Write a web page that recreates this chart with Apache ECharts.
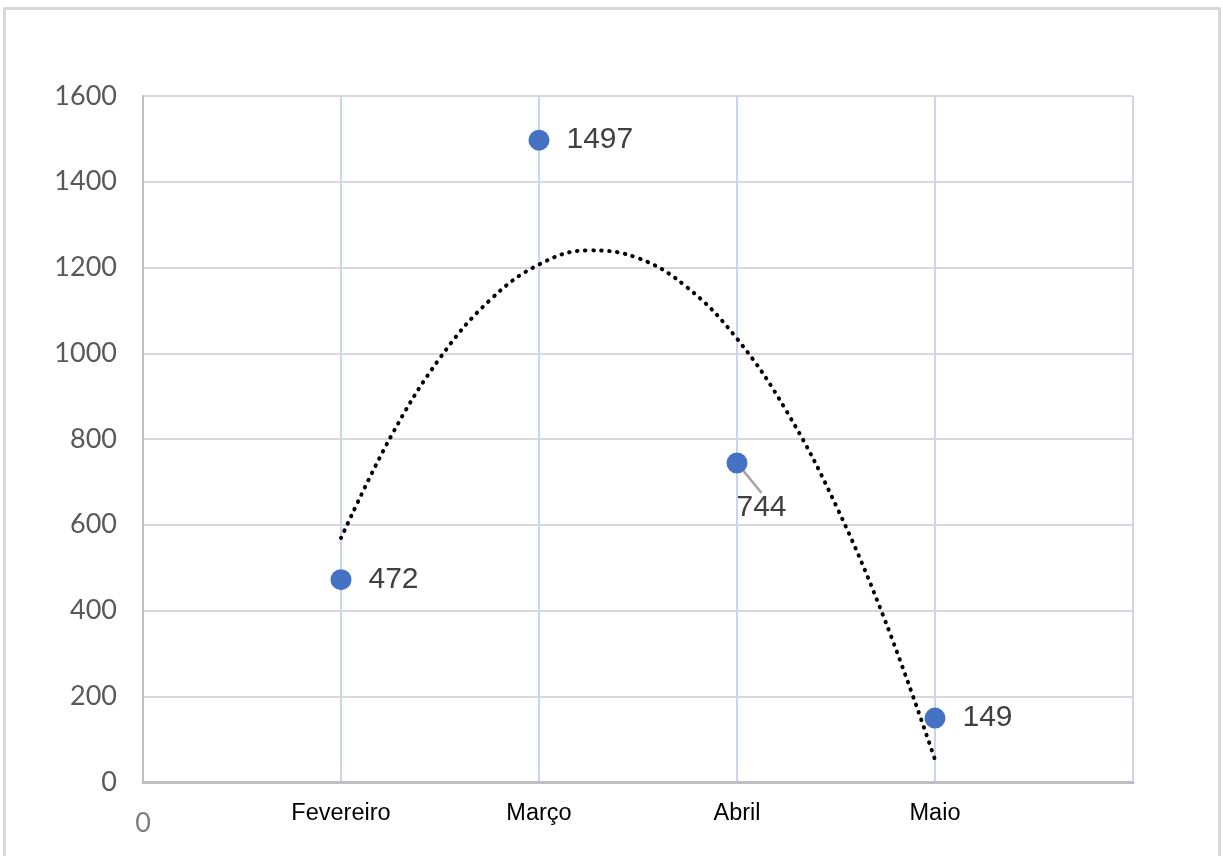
<!DOCTYPE html>
<html>
<head>
<meta charset="utf-8">
<script src="https://cdn.jsdelivr.net/npm/echarts@6/dist/echarts.min.js"></script>
<style>
html,body{margin:0;padding:0;background:#fff;}
#chart{width:1223px;height:856px;}
</style>
</head>
<body>
<div id="chart"></div>
<script>
// Data
const categories = ['Fevereiro', 'Março', 'Abril', 'Maio'];
const values = [472, 1497, 744, 149];
// Dotted polynomial trend line at quarter-steps from Fevereiro (1) to Maio (4)
const trendX = [1, 1.25, 1.5, 1.75, 2, 2.25, 2.5, 2.75, 3, 3.25, 3.5, 3.75, 4];
const trendY = [569, 804, 989, 1123, 1207, 1240, 1222, 1153, 1034, 865, 645, 374, 52];
const yTicks = { min: 0, max: 1600, interval: 200 };

const chart = echarts.init(document.getElementById('chart'), null, { renderer: 'canvas' });

const scatterData = values.map((v, i) => [i + 1, v]);
const trendData = trendX.map((x, i) => [x, trendY[i]]);

chart.setOption({
  backgroundColor: '#ffffff',
  animation: false,
  grid: { left: 143, right: 90, top: 96, bottom: 74, containLabel: false },
  graphic: [{
    type: 'rect',
    shape: { x: 4.5, y: 8.5, width: 1215, height: 860 },
    style: { fill: 'none', stroke: '#d9d9d9', lineWidth: 3 },
    silent: true
  }],
  xAxis: {
    type: 'value',
    min: 0, max: 5, interval: 1,
    axisLine: { show: true, onZero: false, lineStyle: { color: '#bfbfbf', width: 3 } },
    axisTick: { show: false },
    splitLine: { show: true, lineStyle: { color: '#c7d6ef', width: 2 } },
    axisLabel: {
      margin: 19,
      formatter: function (v) {
        if (v === 0) return '{z|0}';
        const c = categories[v - 1];
        return c ? '{m|' + c + '}' : '';
      },
      rich: {
        m: { fontFamily: 'Liberation Sans, Arial, sans-serif', fontSize: 23.5, color: '#000000', lineHeight: 26 },
        z: { fontFamily: 'Lato, sans-serif', fontSize: 27, color: '#7f7f7f', lineHeight: 27, padding: [18, 0, 0, 0] }
      }
    }
  },
  yAxis: {
    type: 'value',
    min: yTicks.min, max: yTicks.max, interval: yTicks.interval,
    axisLine: { show: true, lineStyle: { color: '#bfbfbf', width: 2 } },
    axisTick: { show: false },
    splitLine: { show: true, lineStyle: { color: '#d9d9d9', width: 2 } },
    axisLabel: {
      margin: 26, fontFamily: 'Lato, sans-serif', fontSize: 27, color: '#595959',
      formatter: function (v) { return String(v); }
    }
  },
  series: [
    {
      type: 'line',
      data: trendData,
      smooth: 0.4,
      symbol: 'none',
      lineStyle: { color: '#000000', width: 4, type: [0.5, 7.5], cap: 'round' },
      z: 3
    },
    {
      type: 'scatter',
      data: scatterData.map((d, i) => i === 2 ? {
        value: d,
        labelLine: { show: true, lineStyle: { color: '#a6a6a6', width: 2.5 } }
      } : { value: d }),
      symbolSize: 21,
      itemStyle: { color: '#4472c4', opacity: 1 },
      label: {
        show: true,
        position: 'right',
        distance: 17,
        fontFamily: 'Liberation Sans, Arial, sans-serif',
        fontSize: 30,
        color: '#404040',
        formatter: function (p) { return p.value[1]; }
      },
      labelLine: { show: false },
      labelLayout: function (p) {
        if (p.dataIndex === 2) return { dx: -28, dy: 45 };
        return {};
      },
      z: 4
    }
  ]
});
</script>
</body>
</html>
